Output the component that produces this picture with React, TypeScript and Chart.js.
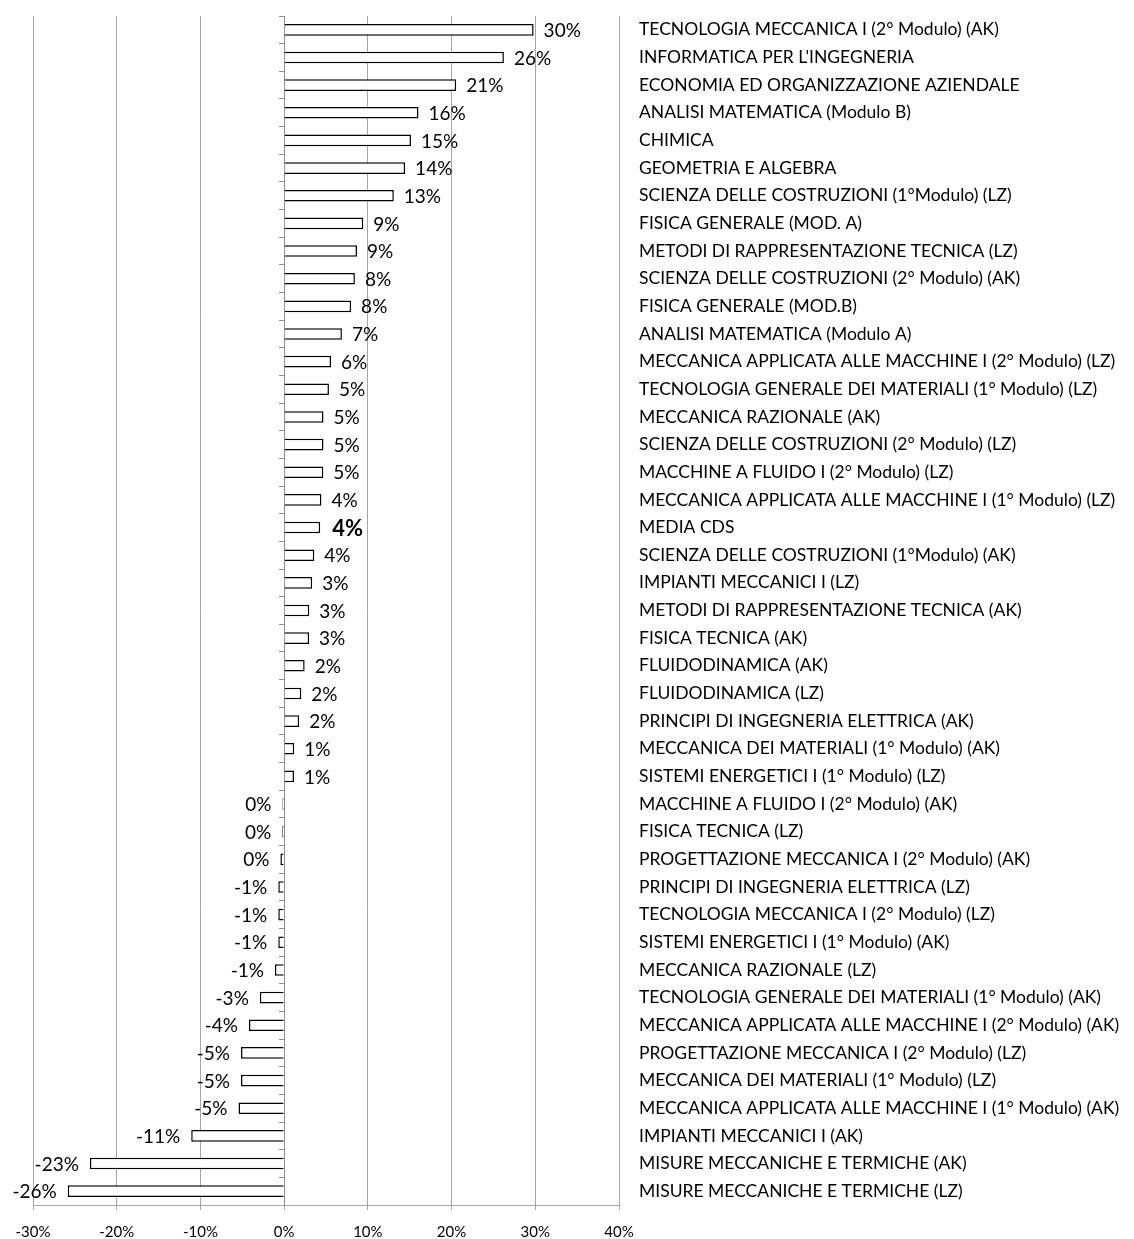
import React, { useEffect, useRef } from "react";
import { Chart, registerables } from "chart.js";

Chart.register(...registerables);

const categories: string[] = [
  "TECNOLOGIA MECCANICA I (2° Modulo) (AK)",
  "INFORMATICA PER L'INGEGNERIA",
  "ECONOMIA ED ORGANIZZAZIONE AZIENDALE",
  "ANALISI MATEMATICA (Modulo B)",
  "CHIMICA",
  "GEOMETRIA E ALGEBRA",
  "SCIENZA DELLE COSTRUZIONI (1°Modulo) (LZ)",
  "FISICA GENERALE (MOD. A)",
  "METODI DI RAPPRESENTAZIONE TECNICA (LZ)",
  "SCIENZA DELLE COSTRUZIONI (2° Modulo) (AK)",
  "FISICA GENERALE (MOD.B)",
  "ANALISI MATEMATICA (Modulo A)",
  "MECCANICA APPLICATA ALLE MACCHINE I (2° Modulo) (LZ)",
  "TECNOLOGIA GENERALE DEI MATERIALI (1° Modulo) (LZ)",
  "MECCANICA RAZIONALE (AK)",
  "SCIENZA DELLE COSTRUZIONI (2° Modulo) (LZ)",
  "MACCHINE A FLUIDO I (2° Modulo) (LZ)",
  "MECCANICA APPLICATA ALLE MACCHINE I (1° Modulo) (LZ)",
  "MEDIA CDS",
  "SCIENZA DELLE COSTRUZIONI (1°Modulo) (AK)",
  "IMPIANTI MECCANICI I (LZ)",
  "METODI DI RAPPRESENTAZIONE TECNICA (AK)",
  "FISICA TECNICA (AK)",
  "FLUIDODINAMICA (AK)",
  "FLUIDODINAMICA (LZ)",
  "PRINCIPI DI INGEGNERIA ELETTRICA (AK)",
  "MECCANICA DEI MATERIALI (1° Modulo) (AK)",
  "SISTEMI ENERGETICI I (1° Modulo) (LZ)",
  "MACCHINE A FLUIDO I (2° Modulo) (AK)",
  "FISICA TECNICA (LZ)",
  "PROGETTAZIONE MECCANICA I (2° Modulo) (AK)",
  "PRINCIPI DI INGEGNERIA ELETTRICA (LZ)",
  "TECNOLOGIA MECCANICA I (2° Modulo) (LZ)",
  "SISTEMI ENERGETICI I (1° Modulo) (AK)",
  "MECCANICA RAZIONALE (LZ)",
  "TECNOLOGIA GENERALE DEI MATERIALI (1° Modulo) (AK)",
  "MECCANICA APPLICATA ALLE MACCHINE I (2° Modulo) (AK)",
  "PROGETTAZIONE MECCANICA I (2° Modulo) (LZ)",
  "MECCANICA DEI MATERIALI (1° Modulo) (LZ)",
  "MECCANICA APPLICATA ALLE MACCHINE I (1° Modulo) (AK)",
  "IMPIANTI MECCANICI I (AK)",
  "MISURE MECCANICHE E TERMICHE (AK)",
  "MISURE MECCANICHE E TERMICHE (LZ)",
];

// values in percent
const values: number[] = [
  29.8, 26.25, 20.55, 16.05, 15.15, 14.45, 13.1, 9.45, 8.7, 8.45,
  8.0, 6.9, 5.6, 5.35, 4.7, 4.7, 4.68, 4.45, 4.3, 3.6,
  3.35, 3.0, 2.98, 2.45, 2.05, 1.8, 1.2, 1.18, -0.2, -0.22,
  -0.45, -0.7, -0.7, -0.7, -1.1, -2.9, -4.2, -5.15, -5.15, -5.45,
  -11.1, -23.2, -25.85,
];

const xMin = -30;
const xMax = 40;
const xStep = 10;
const highlightCategory = "MEDIA CDS";

const FONT = "Lato";

function fmtPct(v: number): string {
  const r = Math.sign(v) * Math.round(Math.abs(v));
  return (r === 0 ? "0" : String(r)) + "%";
}

export default function App() {
  const ref = useRef<HTMLCanvasElement>(null);

  useEffect(() => {
    if (!ref.current) return;
    const valueLabels = {
      id: "valueLabels",
      afterDatasetsDraw(chart: any) {
        const ctx = chart.ctx;
        const meta = chart.getDatasetMeta(0);
        ctx.save();
        ctx.fillStyle = "#000";
        ctx.textBaseline = "middle";
        meta.data.forEach((el: any, i: number) => {
          const v = values[i];
          const bold = categories[i] === highlightCategory;
          ctx.font = bold ? `bold 22px ${FONT}` : `19px ${FONT}`;
          const gap = bold ? 12 : 10;
          if (v >= 0) {
            ctx.textAlign = "left";
            ctx.fillText(fmtPct(v), el.x + gap, el.y + 1);
          } else {
            ctx.textAlign = "right";
            ctx.fillText(fmtPct(v), el.x - 11, el.y + 1);
          }
        });
        ctx.restore();
      },
    };

    const chart = new Chart(ref.current, {
      type: "bar",
      data: {
        labels: categories,
        datasets: [
          {
            data: values,
            backgroundColor: "#ffffff",
            borderColor: "#000000",
            borderWidth: 1.5,
            categoryPercentage: 1,
            barPercentage: 0.42,
            yAxisID: "y",
          },
        ],
      },
      options: {
        indexAxis: "y",
        responsive: false,
        animation: false,
        layout: { padding: { left: 33, top: 16, right: 0, bottom: 0 } },
        plugins: {
          legend: { display: false },
          tooltip: { enabled: false },
        },
        scales: {
          x: {
            type: "linear",
            min: xMin,
            max: xMax,
            ticks: {
              stepSize: xStep,
              callback: (v: any) => `${v}%`,
              color: "#000",
              font: { family: FONT, size: 15 },
              padding: 13,
              maxRotation: 0,
            },
            grid: { color: "#a6a6a6", tickLength: 5, drawTicks: true },
            border: { color: "#a6a6a6" },
            afterFit: (s: any) => {
              s.height = 34;
            },
          },
          y: {
            type: "category",
            position: "right",
            offset: true,
            grid: { display: false, drawTicks: false },
            border: { display: false },
            ticks: {
              color: "#000",
              font: { family: FONT, size: 17.5 },
              padding: 20,
              autoSkip: false,
            },
            afterFit: (s: any) => {
              s.width = 515;
              s.paddingTop = 0;
              s.paddingBottom = 0;
            },
          },
          y0: {
            type: "category",
            axis: "y",
            position: { x: 0 },
            offset: true,
            grid: {
              offset: true,
              drawOnChartArea: false,
              drawTicks: true,
              tickLength: 5,
              color: "#8c8c8c",
            },
            border: { display: true, color: "#8c8c8c" },
            ticks: { display: false },
          },
        } as any,
      },
      plugins: [valueLabels],
    });
    return () => chart.destroy();
  }, []);

  return (
    <div
      style={{
        position: "absolute",
        left: 0,
        top: 0,
        width: 1134,
        height: 1239,
        background: "#fff",
      }}
    >
      <canvas ref={ref} width={1134} height={1239} />
    </div>
  );
}
